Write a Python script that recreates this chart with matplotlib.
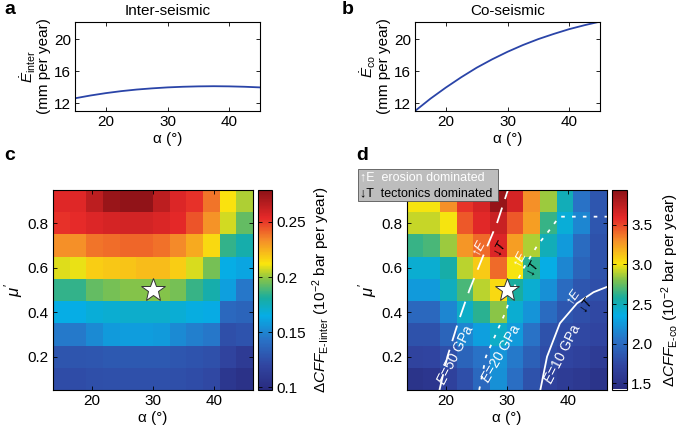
import numpy as np
import matplotlib
matplotlib.use("Agg")
import matplotlib.pyplot as plt
from matplotlib.colors import LinearSegmentedColormap

plt.rcParams['font.family'] = ['Liberation Sans', 'DejaVu Sans']
plt.rcParams['mathtext.fontset'] = 'custom'
plt.rcParams['mathtext.rm'] = 'Liberation Sans'
plt.rcParams['mathtext.it'] = 'Liberation Sans:italic'
plt.rcParams['mathtext.bf'] = 'Liberation Sans:bold'

# ---------------- data ----------------
alpha_line = [15, 17.5, 20, 22.5, 25, 27.5, 30, 32.5, 35, 37.5, 40, 42.5, 45]
E_inter = [12.6, 12.95, 13.25, 13.5, 13.7, 13.85, 13.97, 14.05, 14.1, 14.12, 14.1, 14.05, 13.97]
E_co = [11.0, 12.55, 13.95, 15.25, 16.45, 17.5, 18.45, 19.3, 20.05, 20.7, 21.3, 21.8, 22.25]

alpha_grid = [15.0, 17.73, 20.45, 23.18, 25.91, 28.64, 31.36, 34.09, 36.82, 39.55, 42.27, 45.0]
mu_grid = [0.1, 0.2, 0.3, 0.4, 0.5, 0.6, 0.7, 0.8, 0.9]

# rows from mu=0.1 (first) to mu=0.9 (last)
cff_inter = [
    [0.124, 0.124, 0.125, 0.126, 0.126, 0.126, 0.126, 0.125, 0.124, 0.122, 0.108, 0.104],
    [0.128, 0.128, 0.129, 0.130, 0.130, 0.130, 0.130, 0.129, 0.127, 0.126, 0.118, 0.112],
    [0.146, 0.146, 0.152, 0.158, 0.159, 0.159, 0.158, 0.152, 0.148, 0.145, 0.125, 0.127],
    [0.165, 0.165, 0.168, 0.170, 0.171, 0.171, 0.171, 0.169, 0.166, 0.164, 0.138, 0.136],
    [0.185, 0.185, 0.193, 0.196, 0.198, 0.198, 0.198, 0.196, 0.186, 0.178, 0.160, 0.145],
    [0.209, 0.210, 0.218, 0.219, 0.220, 0.222, 0.222, 0.218, 0.208, 0.196, 0.165, 0.162],
    [0.233, 0.233, 0.238, 0.240, 0.241, 0.241, 0.239, 0.234, 0.226, 0.215, 0.185, 0.178],
    [0.252, 0.253, 0.256, 0.258, 0.259, 0.259, 0.257, 0.254, 0.245, 0.232, 0.207, 0.193],
    [0.255, 0.255, 0.265, 0.275, 0.277, 0.277, 0.265, 0.256, 0.252, 0.238, 0.213, 0.203],
]

cff_co = [
    [1.52, 1.55, 1.68, 1.80, 1.98, 2.20, 2.02, 1.82, 1.68, 1.62, 1.58, 1.52],
    [1.70, 1.72, 1.80, 1.95, 2.05, 2.22, 2.08, 1.92, 1.78, 1.72, 1.68, 1.62],
    [1.82, 1.82, 1.95, 2.15, 2.28, 2.45, 2.25, 2.05, 1.82, 1.78, 1.75, 1.72],
    [1.98, 1.98, 2.15, 2.45, 2.62, 2.82, 2.42, 2.22, 2.00, 1.85, 1.80, 1.75],
    [2.25, 2.25, 2.48, 2.68, 2.90, 3.05, 2.58, 2.42, 2.20, 2.00, 1.85, 1.80],
    [2.42, 2.42, 2.55, 2.90, 3.10, 3.40, 3.00, 2.62, 2.35, 2.15, 1.95, 1.82],
    [2.65, 2.68, 2.85, 3.28, 3.40, 3.62, 3.25, 2.88, 2.50, 2.25, 2.00, 1.82],
    [2.92, 2.92, 3.00, 3.45, 3.60, 3.70, 3.45, 3.25, 2.65, 2.40, 2.15, 1.85],
    [3.00, 3.00, 3.30, 3.55, 3.65, 3.90, 3.65, 3.30, 2.85, 2.50, 2.05, 1.85],
]

star_alpha, star_mu = 30, 0.5

E50_alpha = [19.0, 20.3, 22.0, 23.9, 26.1, 28.4, 30.2]
E50_mu = [0.05, 0.2, 0.35, 0.5, 0.65, 0.8, 0.95]
E20_alpha = [25.5, 26.6, 28.2, 29.8, 31.0, 32.8, 35.0, 37.3, 38.6, 46.4]
E20_mu = [0.05, 0.2, 0.3, 0.4, 0.5, 0.6, 0.7, 0.78, 0.83, 0.83]
E10_alpha = [35.5, 36.6, 38.7, 41.5, 44.2, 46.4]
E10_mu = [0.05, 0.2, 0.35, 0.44, 0.49, 0.514]

# ---------------- style ----------------
cmap = LinearSegmentedColormap.from_list('mjet', [
    (0.00, (0.16, 0.17, 0.50)),
    (0.12, (0.19, 0.27, 0.63)),
    (0.25, (0.16, 0.45, 0.78)),
    (0.37, (0.02, 0.68, 0.90)),
    (0.46, (0.10, 0.68, 0.62)),
    (0.55, (0.50, 0.76, 0.30)),
    (0.63, (0.98, 0.90, 0.05)),
    (0.75, (0.96, 0.55, 0.16)),
    (0.86, (0.90, 0.16, 0.16)),
    (1.00, (0.55, 0.07, 0.09)),
])

fig = plt.figure(figsize=(6.85, 4.32), dpi=100)
FS = 11

def style_ax(ax):
    ax.tick_params(direction='in', top=True, right=True, labelsize=FS, length=3, width=0.6, pad=3)
    for s in ax.spines.values():
        s.set_linewidth(0.8)

# ---------------- panel a ----------------
axa = fig.add_axes([75/685, 1-111/432, 185/685, 89/432])
axa.plot(alpha_line, E_inter, color='#2a44a8', lw=1.3)
axa.set_xlim(15, 45)
axa.set_ylim(11, 22.2)
axa.set_yticks([12, 16, 20])
axa.set_xticks([20, 30, 40])
style_ax(axa)
axa.set_title('Inter-seismic', fontsize=FS, pad=5)
axa.set_ylabel('$\\dot{E}_{\\mathrm{inter}}$\n(mm per year)', fontsize=FS, labelpad=2, linespacing=0.95)
axa.set_xlabel('α (°)', fontsize=FS, labelpad=2)

# ---------------- panel b ----------------
axb = fig.add_axes([415/685, 1-111/432, 185/685, 89/432])
axb.plot(alpha_line, E_co, color='#2a44a8', lw=1.3)
axb.set_xlim(15, 45)
axb.set_ylim(11, 22.2)
axb.set_yticks([12, 16, 20])
axb.set_xticks([20, 30, 40])
style_ax(axb)
axb.set_title('Co-seismic', fontsize=FS, pad=5)
axb.set_ylabel('$\\dot{E}_{\\mathrm{co}}$\n(mm per year)', fontsize=FS, labelpad=2, linespacing=0.95)
axb.set_xlabel('α (°)', fontsize=FS, labelpad=2)

# ---------------- panel c ----------------
axc = fig.add_axes([53/685, 1-390/432, 200/685, 200/432])
mc = axc.pcolormesh(alpha_grid, mu_grid, np.array(cff_inter), cmap=cmap,
                    vmin=0.098, vmax=0.279, shading='nearest')
axc.plot(star_alpha, star_mu, marker='*', ms=18, mfc='white', mec='#333333', mew=0.7)
axc.set_xlim(13.64, 46.36)
axc.set_ylim(0.05, 0.95)
axc.set_xticks([20, 30, 40])
axc.set_yticks([0.2, 0.4, 0.6, 0.8])
style_ax(axc)
axc.set_xlabel('α (°)', fontsize=FS, labelpad=2)
axc.set_ylabel('$\\mu\'$', fontsize=FS + 1, labelpad=2)
caxc = fig.add_axes([258/685, 1-389.5/432, 14/685, 199.5/432])
cbc = fig.colorbar(mc, cax=caxc, ticks=[0.1, 0.15, 0.2, 0.25])
cbc.ax.set_yticklabels(['0.1', '0.15', '0.2', '0.25'])
cbc.ax.tick_params(direction='in', labelsize=FS, length=3, width=0.6, left=True, pad=3)
cbc.outline.set_linewidth(0.8)
cbc.set_label('$\\mathit{\\Delta CFF}_{\\mathrm{E\\text{-}Iinter}}$ (10$^{-2}$ bar per year)', fontsize=FS, labelpad=3)

# ---------------- panel d ----------------
axd = fig.add_axes([406.7/685, 1-390/432, 200/685, 200/432])
md = axd.pcolormesh(alpha_grid, mu_grid, np.array(cff_co), cmap=cmap,
                    vmin=1.42, vmax=3.94, shading='nearest')
axd.plot(E50_alpha, E50_mu, color='white', lw=1.3, dashes=(9, 5))
axd.plot(E20_alpha, E20_mu, color='white', lw=1.3, dashes=(2, 4))
axd.plot(E10_alpha, E10_mu, color='white', lw=1.3)
axd.plot(star_alpha, star_mu, marker='*', ms=18, mfc='white', mec='#333333', mew=0.7)
axd.set_xlim(13.64, 46.36)
axd.set_ylim(0.05, 0.95)
axd.set_xticks([20, 30, 40])
axd.set_yticks([0.2, 0.4, 0.6, 0.8])
style_ax(axd)
axd.set_xlabel('α (°)', fontsize=FS, labelpad=2)
axd.set_ylabel('$\\mu\'$', fontsize=FS + 1, labelpad=2)

# contour labels
for a, m, r, lab in [(21.7, 0.21, 63, '$E$=50 GPa'), (29.1, 0.215, 60, '$E$=20 GPa'),
                     (39.1, 0.213, 63, '$E$=10 GPa')]:
    axd.text(a, m, lab, color='white', fontsize=10, rotation=r, ha='center', va='center')
# arrows
for a, m, r, s, c in [(25.6, 0.69, 62, '↑$E$', 'white'), (29.0, 0.69, 62, '↓$T$', 'black'),
                      (32.2, 0.64, 62, '↑$E$', 'white'), (34.4, 0.60, 62, '↓$T$', 'black'),
                      (40.9, 0.47, 55, '↑$E$', 'white'), (43.1, 0.43, 55, '↓$T$', 'black')]:
    axd.text(a, m, s, color=c, fontsize=9.5, rotation=r, ha='center', va='center')

caxd = fig.add_axes([612/685, 1-389.5/432, 15/685, 199.5/432])
cbd = fig.colorbar(md, cax=caxd, ticks=[1.5, 2.0, 2.5, 3.0, 3.5])
cbd.ax.set_yticklabels(['1.5', '2.0', '2.5', '3.0', '3.5'])
cbd.ax.tick_params(direction='in', labelsize=FS, length=3, width=0.6, left=True, pad=3)
cbd.outline.set_linewidth(0.8)
cbd.set_label('$\\mathit{\\Delta CFF}_{\\mathrm{E\\text{-}co}}$ (10$^{-2}$ bar per year)', fontsize=FS, labelpad=5)

# legend box
fig.patches.append(plt.Rectangle((357.7/685, 1-200.7/432), 140/685, 31.4/432,
                                 transform=fig.transFigure, facecolor='#bdbdbd',
                                 edgecolor='#555555', lw=0.6, zorder=5))
fig.text(360/685, 1-177.5/432, '↑E  erosion dominated', color='white', fontsize=9,
         ha='left', va='center', zorder=6)
fig.text(360/685, 1-193.5/432, '↓T  tectonics dominated', color='black', fontsize=9,
         ha='left', va='center', zorder=6)

# panel letters
for x, y, l in [(4, 10, 'a'), (342, 10, 'b'), (4, 156, 'c'), (356, 156, 'd')]:
    fig.text(x/685, 1-y/432, l, fontsize=14, fontweight='bold', ha='left', va='center')

fig.savefig('out.png', dpi=100)
